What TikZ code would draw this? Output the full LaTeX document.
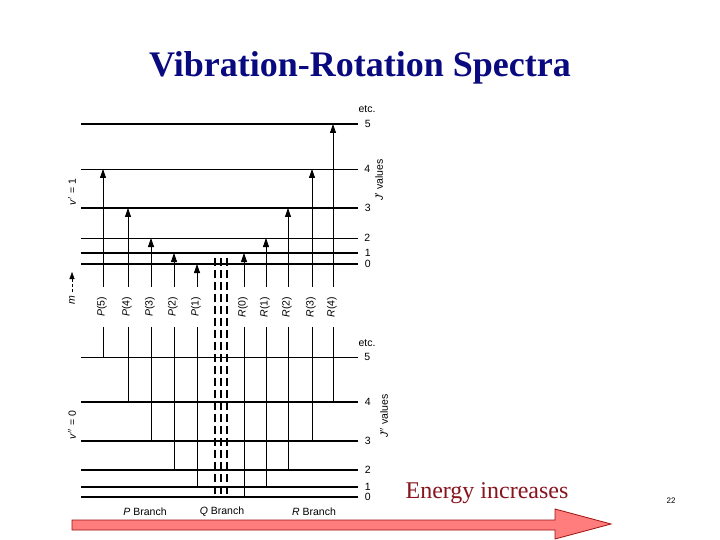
\documentclass[tikz,border=0pt]{standalone}
\usepackage{fontspec}
\setmainfont{Liberation Serif}
\setsansfont{Liberation Sans}
\usetikzlibrary{arrows.meta}

\definecolor{titleblue}{RGB}{10,10,128}
\definecolor{energyred}{RGB}{135,20,30}
\definecolor{arrowfill}{RGB}{255,125,125}
\definecolor{arrowline}{RGB}{160,16,16}

\tikzset{
  lvl/.style={line width=1.7pt},
  thinlvl/.style={line width=0.9pt},
  trans/.style={line width=0.8pt, -{Triangle[length=9pt,width=6pt]}},
  small/.style={font=\sffamily\fontsize{10.5}{12}\selectfont},
  jnum/.style={small, right, inner sep=6pt},
  translbl/.style={small, rotate=90, fill=white, inner xsep=10pt, inner ysep=3pt},
}

\begin{document}
\begin{tikzpicture}[x=1pt, y=-1pt]
    \useasboundingbox (0,0) rectangle (720,540);

    \node[font=\bfseries\fontsize{36}{40}\selectfont, text=titleblue] (title) at (360,68) {Vibration-Rotation Spectra};

    % upper vibrational state v' = 1
    \foreach \j/\y/\st in {5/124/lvl, 4/169/thinlvl, 3/208/lvl, 2/238/thinlvl, 1/253/lvl, 0/264/lvl}
        \draw[\st] (81,\y) -- (358,\y) node[jnum] (up\j) {\j};
    \node[small] (etcup) at (367,109) {etc.};
    \node[small, rotate=90] (jup) at (379,180) {\textit{J}$'$ values};
    \node[small, rotate=90] (vup) at (72,192) {\textit{v}$'$ = 1};

    % lower vibrational state v'' = 0
    \foreach \j/\y/\st in {5/357/thinlvl, 4/402/lvl, 3/441/lvl, 2/470/lvl, 1/487/lvl, 0/497/lvl}
        \draw[\st] (81,\y) -- (358,\y) node[jnum] (lo\j) {\j};
    \node[small] (etclo) at (367,343) {etc.};
    \node[small, rotate=90] (jlo) at (384,416) {\textit{J}$''$ values};
    \node[small, rotate=90] (vlo) at (72,425) {\textit{v}$''$ = 0};

    % m axis
    \node[small, rotate=90] (m) at (72,300) {\textit{m}};
    \coordinate (mtop) at (72,272);
    \draw[densely dashed, -{Triangle[length=7pt,width=5pt]}] (m.east) -- (mtop);

    % forbidden Q branch
    \foreach \x in {215,221,227}
        \draw[line width=1.3pt, dash pattern=on 8pt off 4pt] (\x,258) -- (\x,497);

    % P and R branch transitions
    \foreach \br/\j/\x/\lo/\up in {P/5/103/357/169, P/4/128/402/208, P/3/151/441/238,
            P/2/174/470/253, P/1/197/487/264, R/0/244/497/253, R/1/266/487/238,
            R/2/288/470/208, R/3/312/441/169, R/4/333/402/124} {
        \coordinate (\br\j lo) at (\x,\lo);
        \coordinate (\br\j up) at (\x,\up);
        \draw[trans] (\br\j lo) -- (\br\j up);
        \node[translbl] (\br\j lbl) at (\x-1,307) {\textit{\br}(\j)};
    }

    \node[small] (pbr) at (145,512) {\textit{P} Branch};
    \node[small] (qbr) at (222,512) {\textit{Q} Branch};
    \node[small] (rbr) at (314,512) {\textit{R} Branch};

    % energy arrow
    \node[font=\fontsize{24}{28}\selectfont, text=energyred] (energy) at (487,493) {Energy increases};
    \draw[arrowline, fill=arrowfill, line width=0.8pt]
        (72,520) -- (555,520) -- (555,509) -- (611,524) -- (555,539) -- (555,530) -- (72,530) -- cycle;

    \node[font=\sffamily\fontsize{8}{9}\selectfont] (page) at (671,501) {22};
\end{tikzpicture}
\end{document}
